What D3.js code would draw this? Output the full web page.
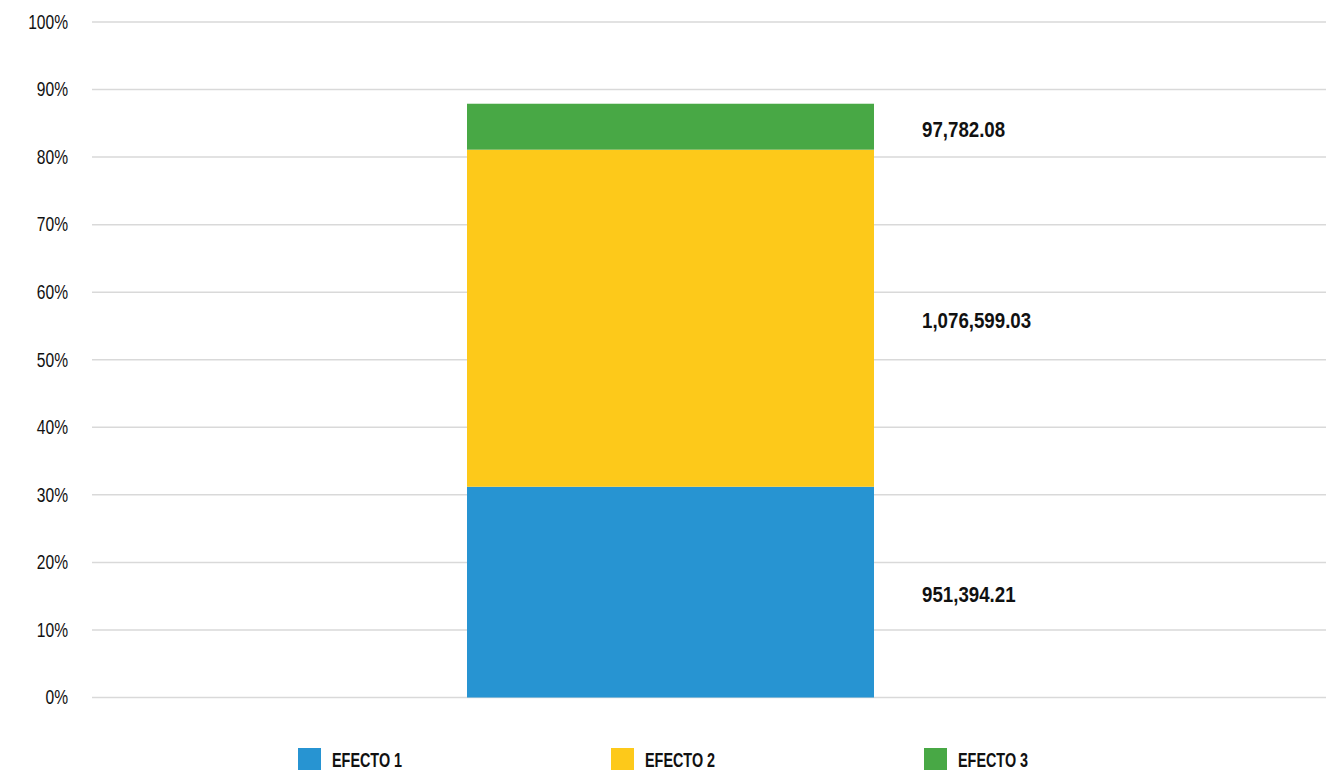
<!DOCTYPE html>
<html>
<head>
<meta charset="utf-8">
<script src="https://cdn.jsdelivr.net/npm/d3@7"></script>
<style>
  body { margin: 0; background: #fff; }
  svg text { font-family: "Liberation Sans", Arial, sans-serif; }
</style>
</head>
<body>
<svg width="1339" height="770"></svg>
<script>
// chart data
const categories = ["Total"];
const seriesNames = ["EFECTO 1", "EFECTO 2", "EFECTO 3"];
const seriesShares = [31.2, 49.9, 6.8];   // percent height of each segment
const seriesLabels = ["951,394.21", "1,076,599.03", "97,782.08"];
const seriesColors = ["#2794d2", "#fdc91a", "#48a845"];
const yTicks = [0, 10, 20, 30, 40, 50, 60, 70, 80, 90, 100];

const plotLeft = 92, plotRight = 1326, plotTop = 22, plotBottom = 697.5;

const svg = d3.select("svg");

const y = d3.scaleLinear()
    .domain([0, 100])
    .range([plotBottom, plotTop]);

// band placement of the single bar
const x = d3.scaleBand()
    .domain(categories)
    .range([plotLeft, 1249])
    .paddingInner(0)
    .paddingOuter(375 / 407);

// grid lines
svg.append("g")
  .selectAll("line")
  .data(yTicks)
  .enter().append("line")
    .attr("x1", plotLeft)
    .attr("x2", plotRight)
    .attr("y1", d => y(d))
    .attr("y2", d => y(d))
    .attr("stroke", "#d9d9d9")
    .attr("stroke-width", 1.5);

// y axis labels (narrowed to look condensed)
svg.append("g")
  .selectAll("text")
  .data(yTicks)
  .enter().append("text")
    .attr("transform", d => `translate(${plotLeft - 24},${y(d)}) scale(0.8,1)`)
    .attr("text-anchor", "end")
    .attr("dy", "0.35em")
    .attr("font-size", "19.5px")
    .attr("fill", "#111")
    .text(d => d + "%");

// stacked segments
const stacked = [];
let acc = 0;
seriesShares.forEach(function(v, i) {
  stacked.push({ name: seriesNames[i], y0: acc, y1: acc + v, label: seriesLabels[i], color: seriesColors[i] });
  acc += v;
});

svg.append("g")
  .selectAll("rect")
  .data(stacked)
  .enter().append("rect")
    .attr("x", x(categories[0]))
    .attr("width", x.bandwidth())
    .attr("y", d => y(d.y1))
    .attr("height", d => y(d.y0) - y(d.y1))
    .attr("fill", d => d.color);

// value labels next to bar
svg.append("g")
  .selectAll("text")
  .data(stacked)
  .enter().append("text")
    .attr("transform", d => `translate(${x(categories[0]) + x.bandwidth() + 48},${(y(d.y0) + y(d.y1)) / 2 + 2.5}) scale(0.85,1)`)
    .attr("dy", "0.35em")
    .attr("font-size", "22px")
    .attr("font-weight", "bold")
    .attr("fill", "#111")
    .text(d => d.label);

// legend
const legendX = [298, 611, 924];
const legend = svg.append("g")
  .selectAll("g")
  .data(stacked)
  .enter().append("g")
    .attr("transform", (d, i) => `translate(${legendX[i]},748)`);

legend.append("rect")
    .attr("width", 23)
    .attr("height", 22)
    .attr("fill", d => d.color);

legend.append("text")
    .attr("transform", "translate(34,11.7) scale(0.72,1)")
    .attr("dy", "0.35em")
    .attr("font-size", "20px")
    .attr("font-weight", "bold")
    .attr("fill", "#111")
    .text(d => d.name);
</script>
</body>
</html>
